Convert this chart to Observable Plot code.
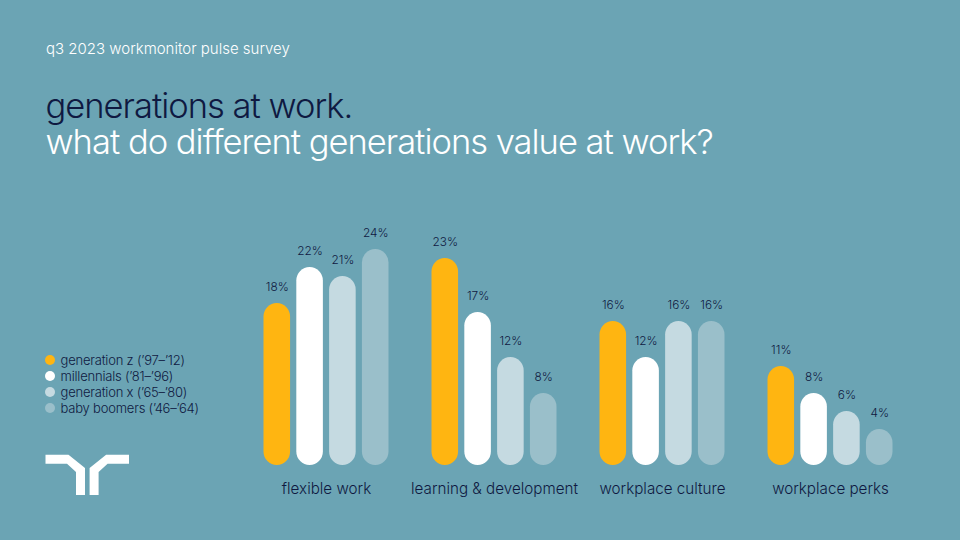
<!DOCTYPE html>
<html><head><meta charset="utf-8">
<script src="https://cdn.jsdelivr.net/npm/d3@7"></script>
<script src="https://cdn.jsdelivr.net/npm/@observablehq/plot@0.6"></script>
<style>
html,body{margin:0;padding:0;width:960px;height:540px;overflow:hidden;background:#6ba4b4;font-family:Inter,sans-serif;}
.abs{position:absolute;white-space:nowrap;}
#kicker{left:46px;top:39px;font-size:15px;line-height:20px;color:#fff;font-weight:300;}
#title{left:45.500px;top:88px;font-size:34.5px;line-height:36px;letter-spacing:-1px;color:#fff;font-weight:300;}
#title .d{color:#0f1941;}
#legend{left:45px;top:352px;font-size:13px;line-height:16px;letter-spacing:-0.2px;color:#0f1941;font-weight:350;}
#legend i{display:inline-block;width:10px;height:10px;border-radius:50%;margin-right:5.5px;}
#legend div{display:flex;align-items:center;height:16px;}
#chart{left:0;top:0;}
#logo{left:0;top:0;}
</style></head><body>
<div id="chart" class="abs"></div>
<div id="kicker" class="abs">q3 2023 workmonitor pulse survey</div>
<div id="title" class="abs"><span class="d">generations at work.</span><br>what do different generations value at work?</div>
<div id="legend" class="abs"></div>
<svg id="logo" class="abs" width="960" height="540"><path fill="#fff" d="M45.500 454.700H68.500L85 468V495H76V472L67 463.700H45.500Z M129 454.700H106.100L89.600 468V495H98.600V472L107.600 463.700H129Z"/></svg>
<script>
const categories = ["flexible work","learning & development","workplace culture","workplace perks"];
const generations = ["generation z ('97–'12)","millennials ('81–'96)","generation x ('65–'80)","baby boomers ('46–'64)"].map(s=>s.replace(/'/g,"’"));
const colors = ["#ffb511","#ffffff","#c5dae1","#9abfca"];
const genZ = [18,23,16,11];
const millennials = [22,17,12,8];
const genX = [21,12,16,6];
const boomers = [24,8,16,4];
const seriesValues = [genZ,millennials,genX,boomers];
const rows = categories.flatMap((c,i)=>generations.map((g,j)=>({category:c,generation:g,value:seriesValues[j][i]})));

d3.select("#legend").selectAll("div").data(generations).join("div")
  .html((g,i)=>`<i style="background:${colors[i]}"></i>${g}`);

const chart = Plot.plot({
  width:960,height:540,
  marginLeft:263.5,marginRight:67.5,marginTop:15,marginBottom:75,
  style:{background:"transparent",fontFamily:"Inter,sans-serif",color:"#0f1941"},
  fx:{domain:categories,paddingInner:0.256,paddingOuter:0,round:false,axis:null},
  x:{domain:generations,paddingInner:0.19,paddingOuter:0,round:false,axis:null},
  y:{domain:[0,50],axis:null},
  color:{domain:generations,range:colors},
  marks:[
    Plot.axisFx({anchor:"bottom",label:null,tickSize:0,tickPadding:18,fontSize:15.2,fontWeight:300,fill:"#0f1941"}),
    Plot.barY(rows,{fx:"category",x:"generation",y:"value",fill:"generation",rx:13.5,ry:13.5}),
    Plot.text(rows,{fx:"category",x:"generation",y:"value",text:d=>d.value+"%",dy:-16,fontSize:11.8,fontWeight:350,fill:"#0f1941"})
  ]
});
document.getElementById("chart").append(chart);
</script>
</body></html>
